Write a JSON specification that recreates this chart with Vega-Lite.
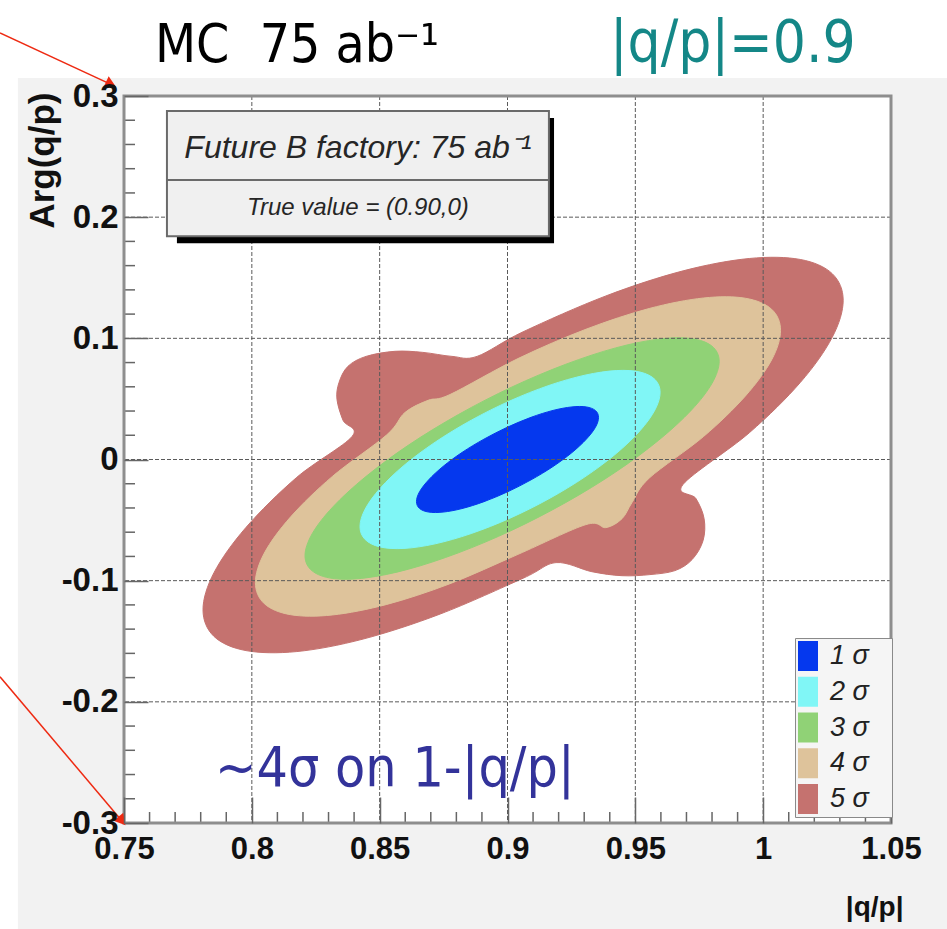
{
  "$schema": "https://vega.github.io/schema/vega-lite/v6.json",
  "width": 767,
  "height": 727,
  "autosize": {"type": "none"},
  "padding": {"left": 124, "top": 96, "right": 56, "bottom": 106},
  "background": "white",
  "config": {"view": {"stroke": null}, "axis": {"labelOverlap": false, "labelBound": false}},
  "datasets": {
    "gx": [{"v": 0.8}, {"v": 0.85}, {"v": 0.9}, {"v": 0.95}, {"v": 1.0}],
    "gy": [{"v": -0.2}, {"v": -0.1}, {"v": 0}, {"v": 0.1}, {"v": 0.2}],
    "mx": [{"v": 0.76}, {"v": 0.77}, {"v": 0.78}, {"v": 0.79}, {"v": 0.81}, {"v": 0.82}, {"v": 0.83}, {"v": 0.84}, {"v": 0.86}, {"v": 0.87}, {"v": 0.88}, {"v": 0.89}, {"v": 0.91}, {"v": 0.92}, {"v": 0.93}, {"v": 0.94}, {"v": 0.96}, {"v": 0.97}, {"v": 0.98}, {"v": 0.99}, {"v": 1.01}, {"v": 1.02}, {"v": 1.03}, {"v": 1.04}],
    "my": [{"v": -0.28}, {"v": -0.26}, {"v": -0.24}, {"v": -0.22}, {"v": -0.18}, {"v": -0.16}, {"v": -0.14}, {"v": -0.12}, {"v": -0.08}, {"v": -0.06}, {"v": -0.04}, {"v": -0.02}, {"v": 0.02}, {"v": 0.04}, {"v": 0.06}, {"v": 0.08}, {"v": 0.12}, {"v": 0.14}, {"v": 0.16}, {"v": 0.18}, {"v": 0.22}, {"v": 0.24}, {"v": 0.26}, {"v": 0.28}],
    "contours": [
      {"level": "1 σ", "i": 0, "x": 0.9356, "y": 0.0347},
      {"level": "1 σ", "i": 1, "x": 0.9344, "y": 0.0404},
      {"level": "1 σ", "i": 2, "x": 0.9308, "y": 0.0434},
      {"level": "1 σ", "i": 3, "x": 0.9252, "y": 0.0434},
      {"level": "1 σ", "i": 4, "x": 0.9178, "y": 0.0405},
      {"level": "1 σ", "i": 5, "x": 0.9092, "y": 0.0348},
      {"level": "1 σ", "i": 6, "x": 0.9, "y": 0.0267},
      {"level": "1 σ", "i": 7, "x": 0.8908, "y": 0.0168},
      {"level": "1 σ", "i": 8, "x": 0.8822, "y": 0.0058},
      {"level": "1 σ", "i": 9, "x": 0.8748, "y": -0.0057},
      {"level": "1 σ", "i": 10, "x": 0.8692, "y": -0.0167},
      {"level": "1 σ", "i": 11, "x": 0.8656, "y": -0.0266},
      {"level": "1 σ", "i": 12, "x": 0.8644, "y": -0.0347},
      {"level": "1 σ", "i": 13, "x": 0.8656, "y": -0.0404},
      {"level": "1 σ", "i": 14, "x": 0.8692, "y": -0.0434},
      {"level": "1 σ", "i": 15, "x": 0.8748, "y": -0.0434},
      {"level": "1 σ", "i": 16, "x": 0.8822, "y": -0.0405},
      {"level": "1 σ", "i": 17, "x": 0.8908, "y": -0.0348},
      {"level": "1 σ", "i": 18, "x": 0.9, "y": -0.0267},
      {"level": "1 σ", "i": 19, "x": 0.9092, "y": -0.0168},
      {"level": "1 σ", "i": 20, "x": 0.9178, "y": -0.0058},
      {"level": "1 σ", "i": 21, "x": 0.9252, "y": 0.0057},
      {"level": "1 σ", "i": 22, "x": 0.9308, "y": 0.0167},
      {"level": "1 σ", "i": 23, "x": 0.9344, "y": 0.0266},
      {"level": "2 σ", "i": 0, "x": 0.9597, "y": 0.0554},
      {"level": "2 σ", "i": 1, "x": 0.9577, "y": 0.066},
      {"level": "2 σ", "i": 2, "x": 0.9518, "y": 0.0722},
      {"level": "2 σ", "i": 3, "x": 0.9425, "y": 0.0734},
      {"level": "2 σ", "i": 4, "x": 0.9303, "y": 0.0696},
      {"level": "2 σ", "i": 5, "x": 0.9162, "y": 0.0611},
      {"level": "2 σ", "i": 6, "x": 0.901, "y": 0.0484},
      {"level": "2 σ", "i": 7, "x": 0.8858, "y": 0.0324},
      {"level": "2 σ", "i": 8, "x": 0.8717, "y": 0.0143},
      {"level": "2 σ", "i": 9, "x": 0.8595, "y": -0.0049},
      {"level": "2 σ", "i": 10, "x": 0.8502, "y": -0.0237},
      {"level": "2 σ", "i": 11, "x": 0.8443, "y": -0.041},
      {"level": "2 σ", "i": 12, "x": 0.8423, "y": -0.0554},
      {"level": "2 σ", "i": 13, "x": 0.8443, "y": -0.066},
      {"level": "2 σ", "i": 14, "x": 0.8502, "y": -0.0722},
      {"level": "2 σ", "i": 15, "x": 0.8595, "y": -0.0734},
      {"level": "2 σ", "i": 16, "x": 0.8717, "y": -0.0696},
      {"level": "2 σ", "i": 17, "x": 0.8858, "y": -0.0611},
      {"level": "2 σ", "i": 18, "x": 0.901, "y": -0.0484},
      {"level": "2 σ", "i": 19, "x": 0.9162, "y": -0.0324},
      {"level": "2 σ", "i": 20, "x": 0.9303, "y": -0.0143},
      {"level": "2 σ", "i": 21, "x": 0.9425, "y": 0.0049},
      {"level": "2 σ", "i": 22, "x": 0.9518, "y": 0.0237},
      {"level": "2 σ", "i": 23, "x": 0.9577, "y": 0.041},
      {"level": "3 σ", "i": 0, "x": 0.9828, "y": 0.081},
      {"level": "3 σ", "i": 1, "x": 0.98, "y": 0.0935},
      {"level": "3 σ", "i": 2, "x": 0.9719, "y": 0.0998},
      {"level": "3 σ", "i": 3, "x": 0.959, "y": 0.0993},
      {"level": "3 σ", "i": 4, "x": 0.9423, "y": 0.0921},
      {"level": "3 σ", "i": 5, "x": 0.9228, "y": 0.0786},
      {"level": "3 σ", "i": 6, "x": 0.9018, "y": 0.0599},
      {"level": "3 σ", "i": 7, "x": 0.8808, "y": 0.0371},
      {"level": "3 σ", "i": 8, "x": 0.8613, "y": 0.0119},
      {"level": "3 σ", "i": 9, "x": 0.8446, "y": -0.0141},
      {"level": "3 σ", "i": 10, "x": 0.8317, "y": -0.0391},
      {"level": "3 σ", "i": 11, "x": 0.8236, "y": -0.0613},
      {"level": "3 σ", "i": 12, "x": 0.8208, "y": -0.0794},
      {"level": "3 σ", "i": 13, "x": 0.8236, "y": -0.0919},
      {"level": "3 σ", "i": 14, "x": 0.8317, "y": -0.0982},
      {"level": "3 σ", "i": 15, "x": 0.8446, "y": -0.0977},
      {"level": "3 σ", "i": 16, "x": 0.8613, "y": -0.0905},
      {"level": "3 σ", "i": 17, "x": 0.8808, "y": -0.077},
      {"level": "3 σ", "i": 18, "x": 0.9018, "y": -0.0583},
      {"level": "3 σ", "i": 19, "x": 0.9228, "y": -0.0355},
      {"level": "3 σ", "i": 20, "x": 0.9423, "y": -0.0103},
      {"level": "3 σ", "i": 21, "x": 0.959, "y": 0.0157},
      {"level": "3 σ", "i": 22, "x": 0.9719, "y": 0.0407},
      {"level": "3 σ", "i": 23, "x": 0.98, "y": 0.0629},
      {"level": "4 σ", "i": 0, "x": 1.0068, "y": 0.1066},
      {"level": "4 σ", "i": 1, "x": 1.0033, "y": 0.124},
      {"level": "4 σ", "i": 2, "x": 0.993, "y": 0.1331},
      {"level": "4 σ", "i": 3, "x": 0.9767, "y": 0.1333},
      {"level": "4 σ", "i": 4, "x": 0.9554, "y": 0.1246},
      {"level": "4 σ", "i": 5, "x": 0.9307, "y": 0.1075},
      {"level": "4 σ", "i": 6, "x": 0.9041, "y": 0.0833},
      {"level": "4 σ", "i": 7, "x": 0.8775, "y": 0.0536},
      {"level": "4 σ", "i": 8, "x": 0.8689, "y": 0.0488},
      {"level": "4 σ", "i": 9, "x": 0.8599, "y": 0.0388},
      {"level": "4 σ", "i": 10, "x": 0.8528, "y": 0.0204},
      {"level": "4 σ", "i": 11, "x": 0.8315, "y": -0.014},
      {"level": "4 σ", "i": 12, "x": 0.8152, "y": -0.0473},
      {"level": "4 σ", "i": 13, "x": 0.8049, "y": -0.0772},
      {"level": "4 σ", "i": 14, "x": 0.8014, "y": -0.1016},
      {"level": "4 σ", "i": 15, "x": 0.8049, "y": -0.119},
      {"level": "4 σ", "i": 16, "x": 0.8152, "y": -0.1281},
      {"level": "4 σ", "i": 17, "x": 0.8315, "y": -0.1283},
      {"level": "4 σ", "i": 18, "x": 0.8528, "y": -0.1196},
      {"level": "4 σ", "i": 19, "x": 0.8775, "y": -0.1025},
      {"level": "4 σ", "i": 20, "x": 0.9041, "y": -0.0783},
      {"level": "4 σ", "i": 21, "x": 0.9307, "y": -0.0537},
      {"level": "4 σ", "i": 22, "x": 0.9385, "y": -0.0562},
      {"level": "4 σ", "i": 23, "x": 0.9448, "y": -0.0488},
      {"level": "4 σ", "i": 24, "x": 0.9487, "y": -0.0355},
      {"level": "4 σ", "i": 25, "x": 0.9554, "y": -0.0154},
      {"level": "4 σ", "i": 26, "x": 0.9767, "y": 0.019},
      {"level": "4 σ", "i": 27, "x": 0.993, "y": 0.0523},
      {"level": "4 σ", "i": 28, "x": 1.0033, "y": 0.0822},
      {"level": "5 σ", "i": 0, "x": 1.0313, "y": 0.1314},
      {"level": "5 σ", "i": 1, "x": 1.027, "y": 0.1534},
      {"level": "5 σ", "i": 2, "x": 1.0145, "y": 0.1651},
      {"level": "5 σ", "i": 3, "x": 0.9946, "y": 0.1659},
      {"level": "5 σ", "i": 4, "x": 0.9687, "y": 0.1557},
      {"level": "5 σ", "i": 5, "x": 0.9385, "y": 0.135},
      {"level": "5 σ", "i": 6, "x": 0.9061, "y": 0.1054},
      {"level": "5 σ", "i": 7, "x": 0.8881, "y": 0.0851},
      {"level": "5 σ", "i": 8, "x": 0.8783, "y": 0.0851},
      {"level": "5 σ", "i": 9, "x": 0.8669, "y": 0.0884},
      {"level": "5 σ", "i": 10, "x": 0.856, "y": 0.0893},
      {"level": "5 σ", "i": 11, "x": 0.8447, "y": 0.0851},
      {"level": "5 σ", "i": 12, "x": 0.8376, "y": 0.0769},
      {"level": "5 σ", "i": 13, "x": 0.8341, "y": 0.0636},
      {"level": "5 σ", "i": 14, "x": 0.8333, "y": 0.0496},
      {"level": "5 σ", "i": 15, "x": 0.8357, "y": 0.0322},
      {"level": "5 σ", "i": 16, "x": 0.8392, "y": 0.019},
      {"level": "5 σ", "i": 17, "x": 0.8176, "y": -0.0147},
      {"level": "5 σ", "i": 18, "x": 0.7977, "y": -0.0561},
      {"level": "5 σ", "i": 19, "x": 0.7852, "y": -0.0934},
      {"level": "5 σ", "i": 20, "x": 0.7809, "y": -0.124},
      {"level": "5 σ", "i": 21, "x": 0.7852, "y": -0.146},
      {"level": "5 σ", "i": 22, "x": 0.7977, "y": -0.1577},
      {"level": "5 σ", "i": 23, "x": 0.8176, "y": -0.1585},
      {"level": "5 σ", "i": 24, "x": 0.8435, "y": -0.1482},
      {"level": "5 σ", "i": 25, "x": 0.8737, "y": -0.1275},
      {"level": "5 σ", "i": 26, "x": 0.9061, "y": -0.098},
      {"level": "5 σ", "i": 27, "x": 0.919, "y": -0.0851},
      {"level": "5 σ", "i": 28, "x": 0.933, "y": -0.0926},
      {"level": "5 σ", "i": 29, "x": 0.9448, "y": -0.0959},
      {"level": "5 σ", "i": 30, "x": 0.9557, "y": -0.095},
      {"level": "5 σ", "i": 31, "x": 0.9655, "y": -0.0917},
      {"level": "5 σ", "i": 32, "x": 0.9722, "y": -0.0826},
      {"level": "5 σ", "i": 33, "x": 0.9765, "y": -0.0669},
      {"level": "5 σ", "i": 34, "x": 0.9769, "y": -0.0488},
      {"level": "5 σ", "i": 35, "x": 0.9737, "y": -0.0322},
      {"level": "5 σ", "i": 36, "x": 0.9687, "y": -0.0205},
      {"level": "5 σ", "i": 37, "x": 0.9946, "y": 0.0221},
      {"level": "5 σ", "i": 38, "x": 1.0145, "y": 0.0635},
      {"level": "5 σ", "i": 39, "x": 1.027, "y": 0.1008}
    ]
  },
  "layer": [
    {
      "data": {"values": [{}]},
      "mark": {"type": "rect", "fill": "#f2f2f2"},
      "encoding": {
        "x": {"datum": 0.7085, "type": "quantitative", "scale": {"domain": [0.75, 1.05], "nice": false, "zero": false}},
        "x2": {"datum": 1.08},
        "y": {"datum": 0.3149, "type": "quantitative", "scale": {"domain": [-0.3, 0.3], "nice": false, "zero": false}},
        "y2": {"datum": -0.4}
      }
    },
    {
      "data": {"values": [{}]},
      "mark": {"type": "rect", "fill": "#ffffff"},
      "encoding": {
        "x": {"datum": 0.75, "type": "quantitative"},
        "x2": {"datum": 1.05},
        "y": {"datum": 0.3, "type": "quantitative"},
        "y2": {"datum": -0.3}
      }
    },
    {
      "data": {"name": "contours"},
      "transform": [{"filter": "datum.level == '5 σ'"}],
      "mark": {"type": "line", "interpolate": "cardinal-closed", "stroke": "#c5726f", "strokeWidth": 1},
      "encoding": {
        "x": {"field": "x", "type": "quantitative",
          "scale": {"domain": [0.75, 1.05], "nice": false, "zero": false},
          "axis": {
            "zindex": 1,
            "title": "|q/p|",
            "values": [0.75, 0.8, 0.85, 0.9, 0.95, 1.0, 1.05],
            "labelExpr": "toString(round(datum.value*100)/100)",
            "grid": false, "domain": false,
            "tickSize": -26,
            "tickColor": "#666666", "tickWidth": 1.5,
            "labelPadding": 37, "labelFont": "Liberation Sans", "labelFontWeight": "bold", "labelFontSize": 31, "labelColor": "#111111",
            "labelFlush": false, "labelOverlap": false, "labelBound": false,
            "titleFont": "Liberation Sans", "titleFontWeight": "bold", "titleFontSize": 28, "titleColor": "#111111",
            "titleX": 779, "titleY": 84, "titleAlign": "right", "titleBaseline": "middle"
          }
        },
        "y": {"field": "y", "type": "quantitative",
          "scale": {"domain": [-0.3, 0.3], "nice": false, "zero": false},
          "axis": {
            "zindex": 1,
            "title": "Arg(q/p)",
            "values": [-0.3, -0.2, -0.1, 0, 0.1, 0.2, 0.3],
            "labelExpr": "toString(round(datum.value*10)/10)",
            "grid": false, "domain": false,
            "tickSize": -24,
            "tickColor": "#666666", "tickWidth": 1.5,
            "labelPadding": 30, "labelFont": "Liberation Sans", "labelFontWeight": "bold", "labelFontSize": 33, "labelColor": "#111111",
            "labelFlush": false, "labelOverlap": false, "labelBound": false,
            "titleFont": "Liberation Sans", "titleFontWeight": "bold", "titleFontSize": 35, "titleColor": "#111111",
            "titleAngle": -90, "titleX": -82, "titleY": -4, "titleAlign": "right", "titleBaseline": "middle"
          }
        },
        "order": {"field": "i", "type": "quantitative"},
        "fill": {"field": "level", "type": "nominal",
          "scale": {"domain": ["1 σ", "2 σ", "3 σ", "4 σ", "5 σ"], "range": ["#0538ee", "#80f6f6", "#90d276", "#dec39b", "#c5726f"]},
          "legend": {
            "title": null, "orient": "none", "legendX": 671, "legendY": 542, "zindex": 2,
            "fillColor": "#f5f5f5", "strokeColor": "#8a8a8a", "padding": 3, "rowPadding": 5.75,
            "symbolType": "M-1,-1H0.333V1H-1Z", "symbolSize": 900, "symbolStrokeWidth": 0,
            "labelFont": "Liberation Sans", "labelFontStyle": "italic", "labelFontSize": 27, "labelColor": "#222222", "labelOffset": 2,
            "labelExpr": "datum.label + '⠀'",
            "encode": {"symbols": {"update": {"fill": {"scale": "fill", "field": "value"}, "stroke": {"value": "transparent"}, "opacity": {"value": 1}}}}
          }
        }
      }
    },
    {
      "data": {"name": "contours"},
      "transform": [{"filter": "datum.level == '4 σ'"}],
      "mark": {"type": "line", "interpolate": "cardinal-closed", "stroke": "#dec39b", "strokeWidth": 1},
      "encoding": {
        "x": {"field": "x", "type": "quantitative"},
        "y": {"field": "y", "type": "quantitative"},
        "order": {"field": "i", "type": "quantitative"},
        "fill": {"field": "level", "type": "nominal"}
      }
    },
    {
      "data": {"name": "contours"},
      "transform": [{"filter": "datum.level == '3 σ'"}],
      "mark": {"type": "line", "interpolate": "cardinal-closed", "stroke": "#90d276", "strokeWidth": 1},
      "encoding": {
        "x": {"field": "x", "type": "quantitative"},
        "y": {"field": "y", "type": "quantitative"},
        "order": {"field": "i", "type": "quantitative"},
        "fill": {"field": "level", "type": "nominal"}
      }
    },
    {
      "data": {"name": "contours"},
      "transform": [{"filter": "datum.level == '2 σ'"}],
      "mark": {"type": "line", "interpolate": "cardinal-closed", "stroke": "#80f6f6", "strokeWidth": 1},
      "encoding": {
        "x": {"field": "x", "type": "quantitative"},
        "y": {"field": "y", "type": "quantitative"},
        "order": {"field": "i", "type": "quantitative"},
        "fill": {"field": "level", "type": "nominal"}
      }
    },
    {
      "data": {"name": "contours"},
      "transform": [{"filter": "datum.level == '1 σ'"}],
      "mark": {"type": "line", "interpolate": "cardinal-closed", "stroke": "#0538ee", "strokeWidth": 1},
      "encoding": {
        "x": {"field": "x", "type": "quantitative"},
        "y": {"field": "y", "type": "quantitative"},
        "order": {"field": "i", "type": "quantitative"},
        "fill": {"field": "level", "type": "nominal"}
      }
    },
    {
      "data": {"name": "gx"},
      "mark": {"type": "rule", "stroke": "#5a5a5a", "strokeDash": [4, 2], "strokeWidth": 1},
      "encoding": {"x": {"field": "v", "type": "quantitative"}}
    },
    {
      "data": {"name": "gy"},
      "mark": {"type": "rule", "stroke": "#5a5a5a", "strokeDash": [4, 2], "strokeWidth": 1},
      "encoding": {"y": {"field": "v", "type": "quantitative"}}
    },
    {
      "data": {"name": "mx"},
      "mark": {"type": "tick", "orient": "vertical", "color": "#666666", "size": 11, "thickness": 1.5, "yOffset": -5.5, "opacity": 1},
      "encoding": {
        "x": {"field": "v", "type": "quantitative"},
        "y": {"datum": -0.3, "type": "quantitative"}
      }
    },
    {
      "data": {"name": "my"},
      "mark": {"type": "tick", "orient": "horizontal", "color": "#666666", "size": 11, "thickness": 1.5, "xOffset": 5.5, "opacity": 1},
      "encoding": {
        "y": {"field": "v", "type": "quantitative"},
        "x": {"datum": 0.75, "type": "quantitative"}
      }
    },
    {
      "data": {"values": [{}]},
      "mark": {"type": "rect", "fillOpacity": 0, "stroke": "#8e8e8e", "strokeWidth": 3},
      "encoding": {
        "x": {"datum": 0.75, "type": "quantitative"},
        "x2": {"datum": 1.05},
        "y": {"datum": 0.3, "type": "quantitative"},
        "y2": {"datum": -0.3}
      }
    },
    {
      "data": {"values": [{}]},
      "mark": {"type": "rect", "fill": "#000000"},
      "encoding": {
        "x": {"datum": 0.7707, "type": "quantitative"},
        "x2": {"datum": 0.9182},
        "y": {"datum": 0.2818, "type": "quantitative"},
        "y2": {"datum": 0.1785}
      }
    },
    {
      "data": {"values": [{}]},
      "mark": {"type": "rect", "fill": "#f0f0f0", "stroke": "#6a6a6a", "strokeWidth": 2},
      "encoding": {
        "x": {"datum": 0.7668, "type": "quantitative"},
        "x2": {"datum": 0.9162},
        "y": {"datum": 0.2876, "type": "quantitative"},
        "y2": {"datum": 0.1843}
      }
    },
    {
      "data": {"values": [{}]},
      "mark": {"type": "rule", "stroke": "#6a6a6a", "strokeWidth": 2},
      "encoding": {
        "x": {"datum": 0.7668, "type": "quantitative"},
        "x2": {"datum": 0.9162},
        "y": {"datum": 0.2306, "type": "quantitative"}
      }
    },
    {
      "data": {"values": [{}]},
      "mark": {"type": "text", "text": "Future B factory: 75 ab⁻¹", "font": "Liberation Sans", "fontStyle": "italic", "fontSize": 32, "color": "#262626", "align": "center", "baseline": "middle"},
      "encoding": {
        "x": {"datum": 0.8415, "type": "quantitative"},
        "y": {"datum": 0.257, "type": "quantitative"}
      }
    },
    {
      "data": {"values": [{}]},
      "mark": {"type": "text", "text": "True value = (0.90,0)", "font": "Liberation Sans", "fontStyle": "italic", "fontSize": 24, "color": "#262626", "align": "center", "baseline": "middle"},
      "encoding": {
        "x": {"datum": 0.8415, "type": "quantitative"},
        "y": {"datum": 0.2074, "type": "quantitative"}
      }
    },
    {
      "data": {"values": [{}]},
      "mark": {"type": "text", "text": "MC\u00a0 75 ab⁻¹", "font": "DejaVu Sans Condensed, DejaVu Sans", "fontSize": 53, "color": "#000000", "align": "left", "baseline": "alphabetic"},
      "encoding": {
        "x": {"datum": 0.7621, "type": "quantitative"},
        "y": {"datum": 0.3281, "type": "quantitative"}
      }
    },
    {
      "data": {"values": [{}]},
      "mark": {"type": "text", "text": "|q/p|=0.9", "font": "DejaVu Sans Condensed, DejaVu Sans", "fontSize": 58, "color": "#148787", "align": "left", "baseline": "alphabetic"},
      "encoding": {
        "x": {"datum": 0.9401, "type": "quantitative"},
        "y": {"datum": 0.3281, "type": "quantitative"}
      }
    },
    {
      "data": {"values": [{}]},
      "mark": {"type": "text", "text": "~4σ on 1-|q/p|", "font": "DejaVu Sans Condensed, DejaVu Sans", "fontSize": 55, "color": "#33339a", "align": "left", "baseline": "alphabetic"},
      "encoding": {
        "x": {"datum": 0.7856, "type": "quantitative"},
        "y": {"datum": -0.2694, "type": "quantitative"}
      }
    },
    {
      "data": {"values": [{}]},
      "mark": {"type": "rule", "stroke": "#ee2a12", "strokeWidth": 1.5},
      "encoding": {
        "x": {"datum": 0.7015, "type": "quantitative"},
        "y": {"datum": 0.3521, "type": "quantitative"},
        "x2": {"datum": 0.7449},
        "y2": {"datum": 0.3096}
      }
    },
    {
      "data": {"values": [{}]},
      "mark": {"type": "point", "shape": "triangle-right", "filled": true, "color": "#ee2a12", "opacity": 1, "size": 160, "angle": 25},
      "encoding": {
        "x": {"datum": 0.7449, "type": "quantitative"},
        "y": {"datum": 0.3096, "type": "quantitative"}
      }
    },
    {
      "data": {"values": [{}]},
      "mark": {"type": "rule", "stroke": "#ee2a12", "strokeWidth": 1.5},
      "encoding": {
        "x": {"datum": 0.7015, "type": "quantitative"},
        "y": {"datum": -0.1793, "type": "quantitative"},
        "x2": {"datum": 0.7492},
        "y2": {"datum": -0.2983}
      }
    },
    {
      "data": {"values": [{}]},
      "mark": {"type": "point", "shape": "triangle-right", "filled": true, "color": "#ee2a12", "opacity": 1, "size": 160, "angle": 50},
      "encoding": {
        "x": {"datum": 0.7492, "type": "quantitative"},
        "y": {"datum": -0.2983, "type": "quantitative"}
      }
    }
  ]
}
